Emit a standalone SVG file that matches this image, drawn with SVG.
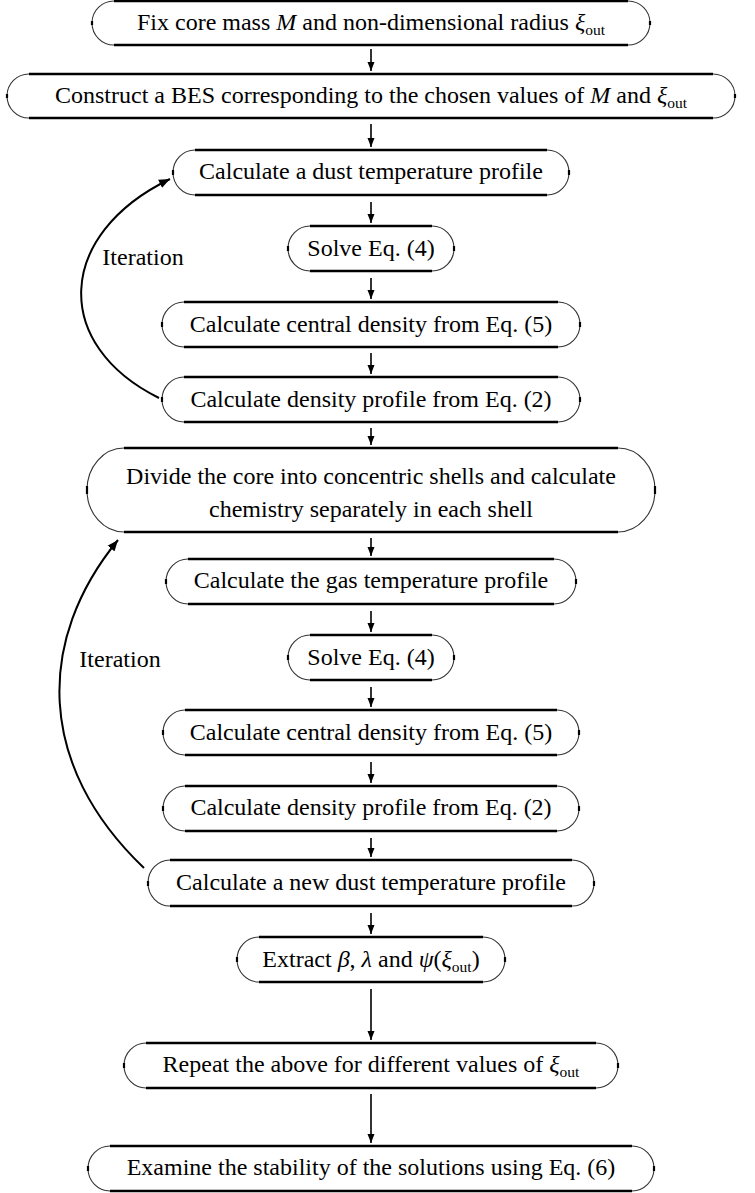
<svg xmlns="http://www.w3.org/2000/svg" width="755" height="1193" viewBox="0 0 755 1193">
<style>
.arc{fill:none;stroke:#333;stroke-width:1.1}
.edge{fill:none;stroke:#000;stroke-width:2.6}
.tick{fill:none;stroke:#000;stroke-width:2.2}
.t{font-family:"Liberation Serif","Times New Roman",serif;font-size:24px;fill:#000;text-anchor:middle}
.i{font-style:italic}
.sub{font-size:15.5px}
.conn{fill:none;stroke:#000;stroke-width:1.6}
.loop{fill:none;stroke:#000;stroke-width:2}
</style>
<defs>
<marker id="ah" markerUnits="userSpaceOnUse" markerWidth="10" markerHeight="8" refX="9" refY="4" orient="auto"><path d="M0,0.5 L9,4 L0,7.5 z" fill="#000"/></marker>
<marker id="ah2" markerUnits="userSpaceOnUse" markerWidth="12" markerHeight="10" refX="11" refY="5" orient="auto"><path d="M0,0.5 L11,5 L0,9.5 z" fill="#000"/></marker>
</defs>
<rect width="755" height="1193" fill="#fff"/>

<g id="n1">
<path class="arc" d="M114,1 A22,22 0 0 0 114,45 M628,1 A22,22 0 0 1 628,45"/>
<path class="edge" d="M114,1 H628 M114,45 H628"/>
<path class="tick" d="M92,21 V25 M650,21 V25"/>
<text class="t" x="371" y="30">Fix core mass <tspan class="i">M</tspan> and non-dimensional radius <tspan class="i">ξ</tspan><tspan class="sub" dy="5">out</tspan></text>
</g>

<g id="n2">
<path class="arc" d="M29,74 A22,22 0 0 0 29,118 M713,74 A22,22 0 0 1 713,118"/>
<path class="edge" d="M29,74 H713 M29,118 H713"/>
<path class="tick" d="M7,94 V98 M735,94 V98"/>
<text class="t" x="371" y="103">Construct a BES corresponding to the chosen values of <tspan class="i">M</tspan> and <tspan class="i">ξ</tspan><tspan class="sub" dy="5">out</tspan></text>
</g>

<g id="n3">
<path class="arc" d="M195,150 A22,22.5 0 0 0 195,195 M547,150 A22,22.5 0 0 1 547,195"/>
<path class="edge" d="M195,150 H547 M195,195 H547"/>
<path class="tick" d="M173,170 V175 M569,170 V175"/>
<text class="t" x="371" y="179">Calculate a dust temperature profile</text>
</g>

<g id="n4">
<path class="arc" d="M310,226 A22,22.5 0 0 0 310,271 M432,226 A22,22.5 0 0 1 432,271"/>
<path class="edge" d="M310,226 H432 M310,271 H432"/>
<path class="tick" d="M288,246 V251 M454,246 V251"/>
<text class="t" x="371" y="256">Solve Eq. (4)</text>
</g>

<g id="n5">
<path class="arc" d="M184,302 A22,22.5 0 0 0 184,347 M558,302 A22,22.5 0 0 1 558,347"/>
<path class="edge" d="M184,302 H558 M184,347 H558"/>
<path class="tick" d="M162,322 V327 M580,322 V327"/>
<text class="t" x="371" y="332">Calculate central density from Eq. (5)</text>
</g>

<g id="n6">
<path class="arc" d="M184,377 A22,22.5 0 0 0 184,422 M558,377 A22,22.5 0 0 1 558,422"/>
<path class="edge" d="M184,377 H558 M184,422 H558"/>
<path class="tick" d="M162,397 V402 M580,397 V402"/>
<text class="t" x="371" y="407">Calculate density profile from Eq. (2)</text>
</g>

<g id="n7">
<path class="arc" d="M124,448 A37,42 0 0 0 124,532 M618,448 A37,42 0 0 1 618,532"/>
<path class="edge" d="M124,448 H618 M124,532 H618"/>
<path class="tick" d="M87,486 V494 M655,486 V494"/>
<text class="t" x="371" y="484">Divide the core into concentric shells and calculate</text>
<text class="t" x="371" y="517">chemistry separately in each shell</text>
</g>

<g id="n8">
<path class="arc" d="M188,559 A22,22.5 0 0 0 188,604 M554,559 A22,22.5 0 0 1 554,604"/>
<path class="edge" d="M188,559 H554 M188,604 H554"/>
<path class="tick" d="M166,579 V584 M576,579 V584"/>
<text class="t" x="371" y="588">Calculate the gas temperature profile</text>
</g>

<g id="n9">
<path class="arc" d="M310,635 A22,22.5 0 0 0 310,680 M432,635 A22,22.5 0 0 1 432,680"/>
<path class="edge" d="M310,635 H432 M310,680 H432"/>
<path class="tick" d="M288,655 V660 M454,655 V660"/>
<text class="t" x="371" y="665">Solve Eq. (4)</text>
</g>

<g id="n10">
<path class="arc" d="M185,710 A22,22.5 0 0 0 185,755 M557,710 A22,22.5 0 0 1 557,755"/>
<path class="edge" d="M185,710 H557 M185,755 H557"/>
<path class="tick" d="M163,730 V735 M579,730 V735"/>
<text class="t" x="371" y="740">Calculate central density from Eq. (5)</text>
</g>

<g id="n11">
<path class="arc" d="M185,786 A22,22.5 0 0 0 185,831 M557,786 A22,22.5 0 0 1 557,831"/>
<path class="edge" d="M185,786 H557 M185,831 H557"/>
<path class="tick" d="M163,806 V811 M579,806 V811"/>
<text class="t" x="371" y="815">Calculate density profile from Eq. (2)</text>
</g>

<g id="n12">
<path class="arc" d="M170,860 A22,23 0 0 0 170,906 M572,860 A22,23 0 0 1 572,906"/>
<path class="edge" d="M170,860 H572 M170,906 H572"/>
<path class="tick" d="M148,881 V886 M594,881 V886"/>
<text class="t" x="371" y="890">Calculate a new dust temperature profile</text>
</g>

<g id="n13">
<path class="arc" d="M259,937 A22,22.5 0 0 0 259,982 M483,937 A22,22.5 0 0 1 483,982"/>
<path class="edge" d="M259,937 H483 M259,982 H483"/>
<path class="tick" d="M237,957 V962 M505,957 V962"/>
<text class="t" x="371" y="967">Extract <tspan class="i">β</tspan>, <tspan class="i">λ</tspan> and <tspan class="i">ψ</tspan>(<tspan class="i">ξ</tspan><tspan class="sub" dy="5">out</tspan><tspan dy="-5">)</tspan></text>
</g>

<g id="n14">
<path class="arc" d="M146,1043 A22,22.5 0 0 0 146,1088 M596,1043 A22,22.5 0 0 1 596,1088"/>
<path class="edge" d="M146,1043 H596 M146,1088 H596"/>
<path class="tick" d="M124,1063 V1068 M618,1063 V1068"/>
<text class="t" x="371" y="1072">Repeat the above for different values of <tspan class="i">ξ</tspan><tspan class="sub" dy="5">out</tspan></text>
</g>

<g id="n15">
<path class="arc" d="M110,1146 A22,22.5 0 0 0 110,1191 M632,1146 A22,22.5 0 0 1 632,1191"/>
<path class="edge" d="M110,1146 H632 M110,1191 H632"/>
<path class="tick" d="M88,1166 V1171 M654,1166 V1171"/>
<text class="t" x="371" y="1175">Examine the stability of the solutions using Eq. (6)</text>
</g>

<g id="connectors">
<path class="conn" marker-end="url(#ah)" d="M371,49 V71"/>
<path class="conn" marker-end="url(#ah)" d="M371,124 V147"/>
<path class="conn" marker-end="url(#ah)" d="M371,202 V223"/>
<path class="conn" marker-end="url(#ah)" d="M371,278 V299"/>
<path class="conn" marker-end="url(#ah)" d="M371,353 V374"/>
<path class="conn" marker-end="url(#ah)" d="M371,428 V445"/>
<path class="conn" marker-end="url(#ah)" d="M371,538 V556"/>
<path class="conn" marker-end="url(#ah)" d="M371,611 V632"/>
<path class="conn" marker-end="url(#ah)" d="M371,687 V707"/>
<path class="conn" marker-end="url(#ah)" d="M371,762 V783"/>
<path class="conn" marker-end="url(#ah)" d="M371,838 V857"/>
<path class="conn" marker-end="url(#ah)" d="M371,913 V934"/>
<path class="conn" marker-end="url(#ah)" d="M371,989 V1040"/>
<path class="conn" marker-end="url(#ah)" d="M371,1094 V1143"/>
<path class="loop" marker-end="url(#ah2)" d="M159,398 C52,345 55,235 170,179"/>
<path class="loop" marker-end="url(#ah2)" d="M144,868 C36,765 36,640 118,540"/>
<text class="t" x="143" y="265">Iteration</text>
<text class="t" x="120" y="667">Iteration</text>
</g>
</svg>
